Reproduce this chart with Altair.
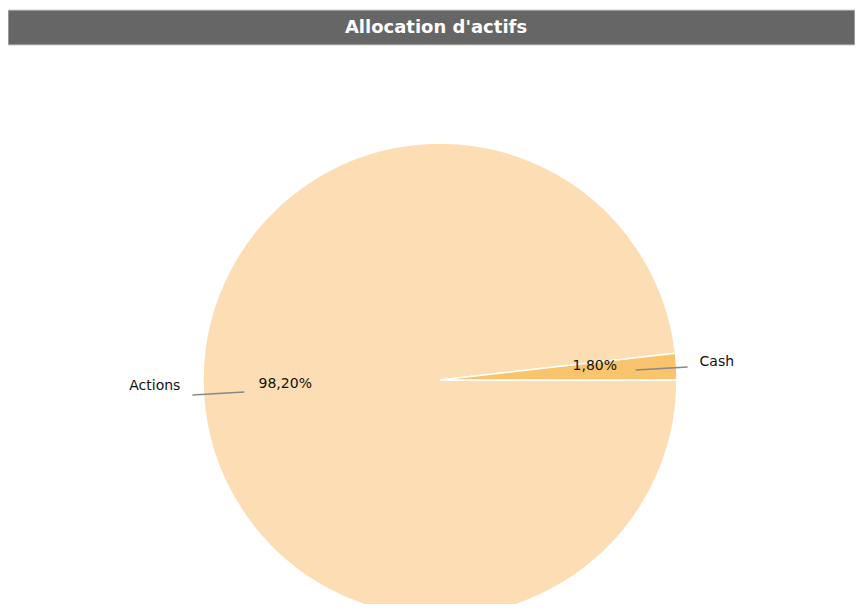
import math
import altair as alt
import pandas as pd

# ---- data ----
categories = ["Actions", "Cash"]
values = [98.20, 1.80]
pct_labels = ["98,20%", "1,80%"]
order_idx = [0, 1]
colors = ["#FDDEB4", "#F9C46C"]
title_text = "Allocation d'actifs"

df = pd.DataFrame({"cat": categories, "value": values, "pct": pct_labels, "idx": order_idx})
tdf = pd.DataFrame({"title": [title_text]})

W, H = 847, 596
CX, CY = 432, 372
R = 237
start = math.pi / 2
FONT = "DejaVu Sans"

theta = alt.Theta("value:Q", stack=True,
                  scale=alt.Scale(domain=[0, 100], range=[start, start + 2 * math.pi]))
color = alt.Color("cat:N", scale=alt.Scale(domain=categories, range=colors), legend=None)
order = alt.Order("idx:Q")

base = alt.Chart(df)

pie = base.mark_arc(radius=R, stroke="white", strokeWidth=1.5).encode(
    theta=theta, color=color, order=order, x=alt.value(CX), y=alt.value(CY)
)

# mid-angle of each slice, derived from the data
mids = base.transform_window(
    cum="sum(value)", sort=[alt.SortField("idx")]
).transform_calculate(
    mid=f"(datum.cum - datum.value/2)/100*2*PI + {start}",
)

pct = base.mark_text(radius=155, dy=-5, font=FONT, fontSize=14, color="#111111").encode(
    theta=theta, order=order, text="pct:N", x=alt.value(CX), y=alt.value(CY)
)

mid_theta = alt.Theta("mid:Q", scale=None)

outer_right = mids.transform_filter(alt.datum.cat == "Cash").mark_text(
    radius=260, dy=-3, align="left", font=FONT, fontSize=14, color="#111111"
).encode(theta=mid_theta, text="cat:N", x=alt.value(CX), y=alt.value(CY))

outer_left = mids.transform_filter(alt.datum.cat == "Actions").mark_text(
    radius=260, dy=-9, align="right", font=FONT, fontSize=14, color="#111111"
).encode(theta=mid_theta, text="cat:N", x=alt.value(CX), y=alt.value(CY))

leaders = mids.transform_calculate(
    lx1=f"{CX} + 196*sin(datum.mid)",
    ly1=f"{CY} - 196*cos(datum.mid) + 1",
    lx2=f"{CX} + 248*sin(datum.mid)",
    ly2=f"{CY} - 248*cos(datum.mid) + 1",
).mark_rule(color="#888888", strokeWidth=1.5).encode(
    x=alt.X("lx1:Q", scale=None), x2="lx2:Q",
    y=alt.Y("ly1:Q", scale=None), y2="ly2:Q",
)

band = alt.Chart(tdf).mark_rect(fill="#666666", stroke="#CCCCCC", strokeWidth=1).encode(
    x=alt.value(0), x2=alt.value(W), y=alt.value(2), y2=alt.value(37)
)
title = alt.Chart(tdf).mark_text(
    font=FONT, fontSize=18, fontWeight="bold", color="white", baseline="middle"
).encode(text="title:N", x=alt.value(428), y=alt.value(20))

chart = alt.layer(pie, leaders, pct, outer_right, outer_left, band, title).properties(
    width=W, height=H, padding=0, autosize=alt.AutoSizeParams(type="none")
).configure_view(stroke=None).resolve_scale(x="independent", y="independent")

chart.save("out.html", embed_options={"renderer": "svg", "actions": False})
